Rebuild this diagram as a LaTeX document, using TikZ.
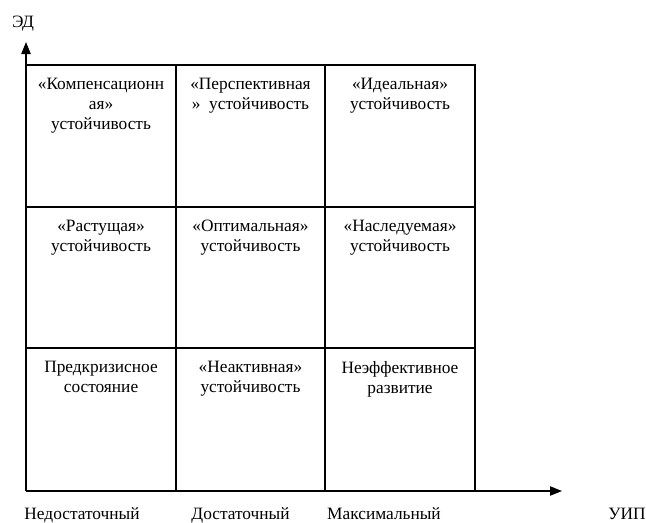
\documentclass[tikz,border=0pt]{standalone}
\usepackage{fontspec}
\setmainfont{Liberation Serif}
\usetikzlibrary{arrows.meta, positioning}

\begin{document}
\begin{tikzpicture}[
    x=0.75pt, y=-0.75pt,
    cell/.style={anchor=north, align=center, inner sep=0pt, font=\fontsize{13}{15}\selectfont,
        execute at begin node={\rule{0pt}{13pt}}},
    axlbl/.style={anchor=base, inner sep=0pt, font=\fontsize{13}{15}\selectfont},
    axis/.style={-{Triangle[length=9pt, width=7pt]}, line width=0.9pt},
    gridline/.style={line width=0.9pt}
]
    \useasboundingbox (0,0) rectangle (646,522);

    % Grid 3x3
    \draw[gridline] (26,65) -- (475,65) -- (475,491);
    \foreach \gx in {176,325} \draw[gridline] (\gx,65) -- (\gx,491);
    \foreach \gy in {207,348} \draw[gridline] (26,\gy) -- (475,\gy);

    % Axes
    \coordinate (orig) at (26,491);
    \coordinate (ytip) at (26,42);
    \coordinate (xtip) at (562,491);
    \draw[axis] (orig) -- (ytip);
    \draw[axis] (orig) -- (xtip);

    % Top row
    \node[cell] (komp) at (101,78) {«Компенсационн\\ая»\\устойчивость};
    \node[cell] (persp) at (250.5,78) {«Перспективная\\»~ устойчивость};
    \node[cell] (ideal) at (400,78) {«Идеальная»\\устойчивость};

    % Middle row
    \node[cell] (rast) at (101,220) {«Растущая»\\устойчивость};
    \node[cell] (optim) at (250.5,220) {«Оптимальная»\\устойчивость};
    \node[cell] (nasl) at (400,220) {«Наследуемая»\\устойчивость};

    % Bottom row
    \node[cell] (predkr) at (101,361) {Предкризисное\\состояние};
    \node[cell] (neakt) at (250.5,361) {«Неактивная»\\устойчивость};
    \node[cell] (neeff) at (400,361) {Неэффективное\\развитие};

    % Axis labels
    \node[axlbl] (ed) at (23,27) {ЭД};
    \node[axlbl] (nedost) at (82,519) {Недостаточный};
    \node[axlbl] (dost) at (240.5,519) {Достаточный};
    \node[axlbl] (maks) at (384,519) {Максимальный};
    \node[axlbl] (uip) at (627,519) {УИП};
\end{tikzpicture}
\end{document}
